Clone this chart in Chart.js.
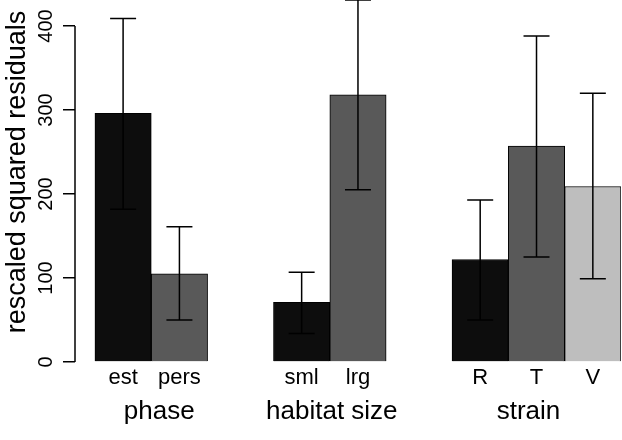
<!DOCTYPE html>
<html>
<head>
<meta charset="utf-8">
<script src="https://cdn.jsdelivr.net/npm/chart.js@4/dist/chart.umd.min.js"></script>
<style>
  body { margin: 0; background: #fff; }
</style>
</head>
<body>
<canvas id="myChart" width="622" height="440"></canvas>
<script>
const categories = ["est", "pers", "sml", "lrg", "R", "T", "V"];
const groupNames = ["phase", "habitat size", "strain"];
const groupSizes = [2, 2, 3];
const means = [296, 105, 71, 318, 122, 257, 209];
const upper = [409, 161, 107, 431, 193, 388, 320];
const lower = [182, 50, 34, 205, 50, 125, 99];
const yTicks = [0, 100, 200, 300, 400];
const yTitle = 'rescaled squared residuals';

const fontFamily = "'Liberation Sans', Arial, Helvetica, sans-serif";
const barColors = ['#0d0d0d', '#595959', '#0d0d0d', '#595959', '#0d0d0d', '#595959', '#bebebe'];

// bar slots, with a gap between groups (in bar widths)
const gap = 1.17;
const positions = [];
let p = 0;
groupSizes.forEach(n => {
  for (let i = 0; i < n; i++) positions.push(p++);
  p += gap;
});
// the group titles are not quite centred under their bars in the original
const titleShift = [8, 2, -8];

const extras = {
  id: 'extras',
  afterDatasetsDraw(chart) {
    const ctx = chart.ctx;
    const x = chart.scales.x, y = chart.scales.y;
    ctx.save();
    ctx.strokeStyle = '#000';
    ctx.lineWidth = 1.5;
    // error bars
    positions.forEach((pos, i) => {
      const px = x.getPixelForValue(pos);
      const top = y.getPixelForValue(upper[i]);
      const bot = y.getPixelForValue(lower[i]);
      ctx.beginPath();
      ctx.moveTo(px, top); ctx.lineTo(px, bot);
      ctx.moveTo(px - 13, top); ctx.lineTo(px + 13, top);
      ctx.moveTo(px - 13, bot); ctx.lineTo(px + 13, bot);
      ctx.stroke();
    });
    // y axis line only over the tick range
    ctx.beginPath();
    ctx.moveTo(chart.chartArea.left, y.getPixelForValue(yTicks[0]));
    ctx.lineTo(chart.chartArea.left, y.getPixelForValue(yTicks[yTicks.length - 1]));
    ctx.stroke();
    ctx.fillStyle = '#000';
    ctx.textAlign = 'center';
    ctx.textBaseline = 'middle';
    // group titles
    ctx.font = '26px ' + fontFamily;
    let k = 0;
    groupSizes.forEach((n, g) => {
      const mid = (positions[k] + positions[k + n - 1]) / 2;
      ctx.fillText(groupNames[g], x.getPixelForValue(mid) + titleShift[g], 412);
      k += n;
    });
    // y title
    ctx.font = '27px ' + fontFamily;
    ctx.translate(18, 172);
    ctx.rotate(-Math.PI / 2);
    ctx.fillText(yTitle, 0, 0);
    ctx.restore();
  }
};

new Chart(document.getElementById('myChart'), {
  type: 'bar',
  data: {
    datasets: [{
      data: positions.map((pos, i) => ({ x: pos, y: means[i] })),
      backgroundColor: barColors,
      borderColor: '#000',
      borderWidth: 1,
      barPercentage: 1,
      categoryPercentage: 1
    }]
  },
  options: {
    responsive: false,
    animation: false,
    layout: { autoPadding: false, padding: { top: 0, right: 1, bottom: 0, left: 0 } },
    plugins: { legend: { display: false }, tooltip: { enabled: false } },
    scales: {
      x: {
        type: 'linear',
        offset: false,
        min: positions[0] - 0.854,
        max: positions[positions.length - 1] + 0.5,
        afterBuildTicks: (scale) => { scale.ticks = positions.map(v => ({ value: v })); },
        afterFit: (scale) => {
          scale.height = 78;
          scale.paddingLeft = 0; scale.paddingRight = 0;
        },
        grid: { display: false, drawTicks: false, offset: false },
        border: { display: false },
        ticks: {
          autoSkip: false,
          maxRotation: 0,
          padding: 3,
          color: '#000',
          font: { family: fontFamily, size: 22 },
          callback: (v, i) => categories[i]
        }
      },
      y: {
        min: 0,
        max: 431,
        afterBuildTicks: (scale) => { scale.ticks = yTicks.map(v => ({ value: v })); },
        afterFit: (scale) => {
          scale.width = 75;
          scale.paddingTop = 0; scale.paddingBottom = 0;
        },
        grid: { drawOnChartArea: false, drawTicks: true, tickLength: 12, color: '#000', lineWidth: 1.5 },
        border: { display: false },
        ticks: {
          minRotation: 90,
          maxRotation: 90,
          crossAlign: 'center',
          padding: 0,
          color: '#000',
          font: { family: fontFamily, size: 20 }
        }
      }
    }
  },
  plugins: [extras]
});
</script>
</body>
</html>
